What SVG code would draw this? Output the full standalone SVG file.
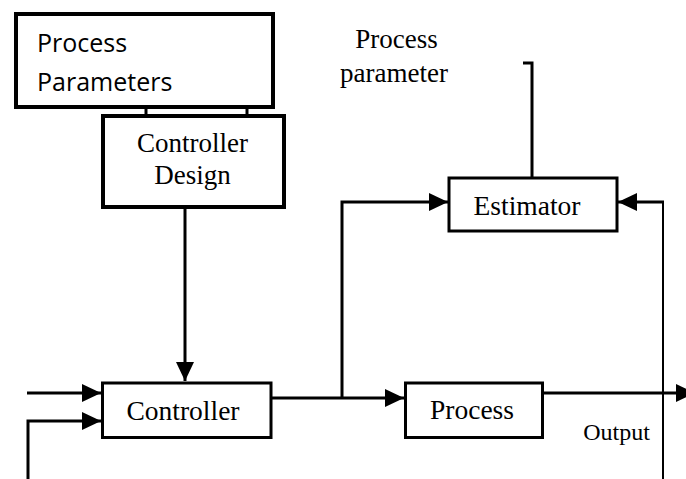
<svg xmlns="http://www.w3.org/2000/svg" width="686" height="479" viewBox="0 0 686 479">
  <style>
    .box { fill: #fff; stroke: #000; }
    .serif { font-family: "Liberation Serif", "Times New Roman", serif; fill: #000; text-anchor: middle; }
    .sans { font-family: "Open Sans", "Liberation Sans", sans-serif; fill: #000; }
    .wire { fill: none; stroke: #000; stroke-width: 3; }
  </style>
  <defs>
    <marker id="arr" markerUnits="userSpaceOnUse" markerWidth="20" markerHeight="18" refX="19" refY="9" orient="auto">
      <path d="M0,0 L19,9 L0,18 Z" fill="#000"/>
    </marker>
  </defs>
  <rect width="686" height="479" fill="#fff"/>

  <g id="connectors">
    <path class="wire" d="M146,107 V116"/>
    <path class="wire" d="M247,107 V116"/>
    <path class="wire" d="M185,207 V381" marker-end="url(#arr)"/>
    <path class="wire" d="M27,393 H101" marker-end="url(#arr)"/>
    <path class="wire" d="M28,479 V421 H101" marker-end="url(#arr)"/>
    <path class="wire" d="M271,398 H404" marker-end="url(#arr)"/>
    <path class="wire" d="M342,398 V202 H448" marker-end="url(#arr)"/>
    <path class="wire" d="M543,393 H695" marker-end="url(#arr)"/>
    <path fill="none" stroke="#000" stroke-width="2" d="M663,479 V202"/>
    <path class="wire" d="M664,202 H618" marker-end="url(#arr)"/>
    <path class="wire" d="M532,178 V63 H523"/>
  </g>

  <g id="process-parameters">
    <rect class="box" x="16" y="14" width="257" height="93" stroke-width="4"/>
    <text class="sans" x="37" y="52" font-size="25">Process</text>
    <text class="sans" x="37" y="91" font-size="25">Parameters</text>
  </g>

  <g id="controller-design">
    <rect class="box" x="103" y="116" width="181" height="91" stroke-width="4"/>
    <text class="serif" x="192.5" y="152" font-size="27">Controller</text>
    <text class="serif" x="192.5" y="184" font-size="27">Design</text>
  </g>

  <g id="controller">
    <rect class="box" x="102.5" y="383" width="168.5" height="54.5" stroke-width="3"/>
    <text class="serif" x="183" y="420" font-size="27.5">Controller</text>
  </g>

  <g id="process">
    <rect class="box" x="405.5" y="383" width="137" height="54.5" stroke-width="3"/>
    <text class="serif" x="472" y="419" font-size="27.5">Process</text>
  </g>

  <g id="estimator">
    <rect class="box" x="449" y="178" width="168" height="53" stroke-width="3"/>
    <text class="serif" x="527" y="215" font-size="27.5">Estimator</text>
  </g>

  <g id="labels">
    <text class="serif" x="396.5" y="48" font-size="27">Process</text>
    <text class="serif" x="394" y="82" font-size="27">parameter</text>
    <text class="serif" x="616.5" y="440" font-size="24">Output</text>
  </g>
</svg>
